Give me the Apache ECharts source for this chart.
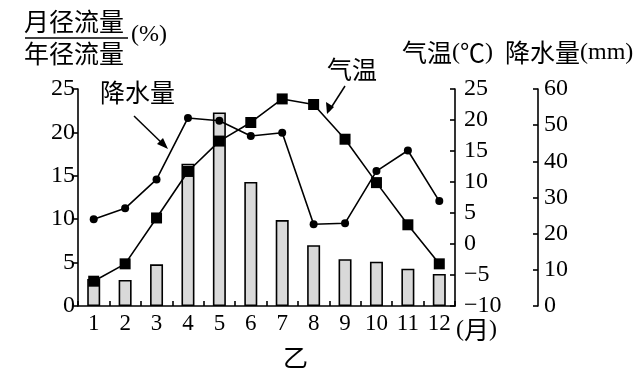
<!DOCTYPE html>
<html><head><meta charset="utf-8">
<script src="https://cdn.jsdelivr.net/npm/echarts@6/dist/echarts.min.js"></script>
<style>html,body{margin:0;padding:0;background:#fff}#c{width:640px;height:380px}</style>
</head><body><div id="c"></div>
<script>
var months = ['1','2','3','4','5','6','7','8','9','10','11','12'];
var runoffPct = [3.1, 3.0, 4.8, 16.4, 22.3, 14.3, 9.9, 7.0, 5.4, 5.1, 4.3, 3.7];
var temperature = [-6.0, -3.2, 4.2, 11.7, 16.6, 19.6, 23.4, 22.5, 16.9, 9.9, 3.1, -3.2];
var precipitation = [24, 27, 35, 52, 51.2, 47, 47.9, 22.6, 22.9, 37.3, 43, 29];

var SERIF = '"Liberation Serif","DejaVu Serif",serif';
var CJK = '"Noto Sans CJK SC",sans-serif';
var chart = echarts.init(document.getElementById('c'), null, {renderer:'canvas'});
function neg(v){ return String(v).replace('-', '\u2212'); }
var axLine = {show:true, lineStyle:{color:'#000', width:1.6}};
var tickStyle = {color:'#000', width:1.6};
var rich = {
  c:{fontFamily:CJK, fontSize:25, fill:'#000', color:'#000'},
  s:{fontFamily:SERIF, fontSize:24, fill:'#000', color:'#000'}
};
function rtext(x, y, str){
  return {type:'text', left:x, top:y, style:{text:str, rich:rich, fill:'#000'}};
}
chart.setOption({
  animation:false,
  grid:{left:78, right:185, top:89, bottom:74},
  xAxis:{type:'category', data:months, boundaryGap:true,
    axisLine:axLine,
    axisTick:{show:true, inside:true, length:5, lineStyle:tickStyle},
    axisLabel:{color:'#000', fontFamily:SERIF, fontSize:23, margin:6},
    splitLine:{show:false}},
  yAxis:[
    {type:'value', min:0, max:25, interval:5, position:'left',
     axisLine:axLine, axisTick:{show:true, length:5, lineStyle:tickStyle},
     axisLabel:{color:'#000', fontFamily:SERIF, fontSize:24, margin:3},
     splitLine:{show:false}},
    {type:'value', min:-10, max:25, interval:5, position:'right',
     axisLine:axLine, axisTick:{show:true, inside:true, length:5, lineStyle:tickStyle},
     axisLabel:{color:'#000', fontFamily:SERIF, fontSize:24, margin:9, formatter:neg},
     splitLine:{show:false}},
    {type:'value', min:0, max:60, interval:10, position:'right', offset:83,
     axisLine:axLine, axisTick:{show:true, inside:true, length:5, lineStyle:tickStyle},
     axisLabel:{color:'#000', fontFamily:SERIF, fontSize:24, margin:6},
     splitLine:{show:false}}
  ],
  series:[
    {type:'bar', yAxisIndex:0, data:runoffPct, barWidth:13,
     itemStyle:{color:'#d9d9d9', borderColor:'#000', borderWidth:1.6}},
    {type:'line', yAxisIndex:2, data:precipitation, symbol:'circle', symbolSize:8,
     lineStyle:{color:'#000', width:1.6}, itemStyle:{color:'#000'}},
    {type:'line', yAxisIndex:1, data:temperature, symbol:'rect', symbolSize:11,
     lineStyle:{color:'#000', width:1.6}, itemStyle:{color:'#000'}}
  ],
  graphic:[
    rtext(24, 9, '{c|月径流量}'),
    {type:'line', shape:{x1:25, y1:38, x2:128, y2:38}, style:{stroke:'#000', lineWidth:1.5}},
    rtext(24, 41, '{c|年径流量}'),
    rtext(131, 23, '{s|(%)}'),
    rtext(402, 40, '{c|气温}{s|(}{c|℃}{s|)}'),
    rtext(505, 40, '{c|降水量}{s|(mm)}'),
    rtext(100, 80, '{c|降水量}'),
    {type:'line', shape:{x1:134, y1:116, x2:166, y2:147}, style:{stroke:'#000', lineWidth:1.5}},
    {type:'polygon', shape:{points:[[168,149],[157,144],[163,138]]}, style:{fill:'#000'}},
    rtext(327, 57, '{c|气温}'),
    {type:'line', shape:{x1:345, y1:86, x2:329, y2:111}, style:{stroke:'#000', lineWidth:1.5}},
    {type:'polygon', shape:{points:[[327,114],[326,102],[334,107]]}, style:{fill:'#000'}},
    rtext(456, 317, '{s|(}{c|月}{s|)}'),
    rtext(283, 345, '{c|乙}')
  ]
});
</script></body></html>
